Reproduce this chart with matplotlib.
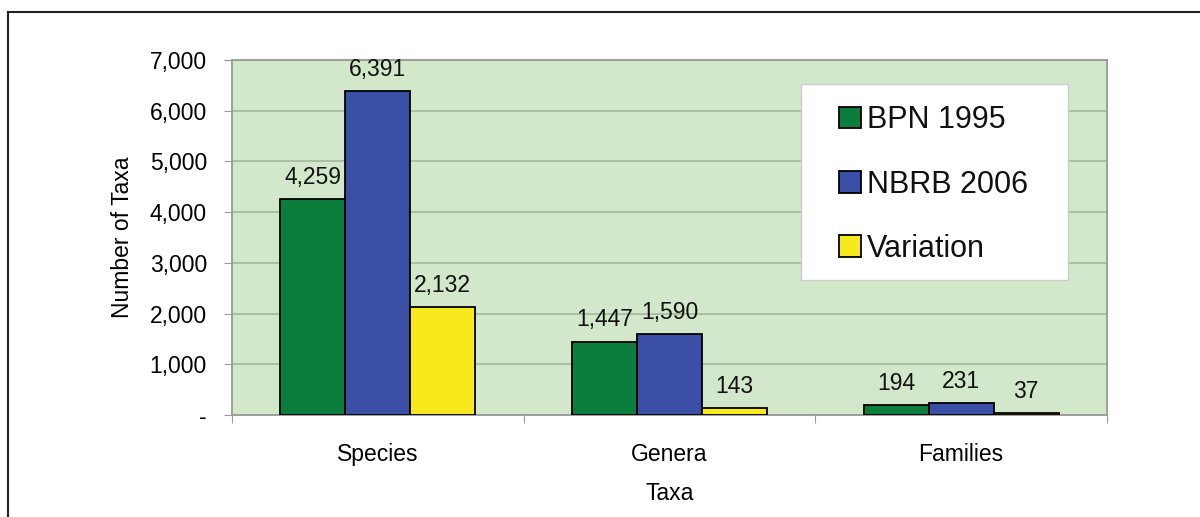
import matplotlib.pyplot as plt
import numpy as np
from matplotlib.lines import Line2D
from matplotlib.patches import Rectangle

plt.rcParams['font.family'] = ['Liberation Sans', 'DejaVu Sans']

# data
categories = ['Species', 'Genera', 'Families']
series_names = ['BPN 1995', 'NBRB 2006', 'Variation']
bpn_1995 = [4259, 1447, 194]
nbrb_2006 = [6391, 1590, 231]
variation = [2132, 143, 37]
yticks = [0, 1000, 2000, 3000, 4000, 5000, 6000, 7000]
ytick_labels = ['-', '1,000', '2,000', '3,000', '4,000', '5,000', '6,000', '7,000']

colors = ['#0b7d3c', '#3a4fa5', '#f7e91b']
fs = 16.5

fig = plt.figure(figsize=(12, 5.17), dpi=100)
ax = fig.add_axes([0.1933, 0.1973, 0.7292, 0.6867])
ax.set_facecolor('#d3e7ca')

# outer frame (left + top only visible)
fig.add_artist(Line2D([8/1200, 8/1200], [0, 1-12/517], transform=fig.transFigure, color='#222222', lw=1.5))
fig.add_artist(Line2D([8/1200, 1], [1-12/517, 1-12/517], transform=fig.transFigure, color='#222222', lw=1.5))

x = np.arange(len(categories))
w = 0.223
for i, (vals, c) in enumerate(zip([bpn_1995, nbrb_2006, variation], colors)):
    bars = ax.bar(x + (i - 1) * w, vals, w, color=c, edgecolor='black', linewidth=1.3,
                  label=series_names[i], zorder=3)
    for b, v in zip(bars, vals):
        ax.text(b.get_x() + b.get_width() / 2, v + 200, f'{v:,}', ha='center', va='bottom',
                fontsize=fs, color='#111111')

ax.set_xlim(-0.5, 2.5)
ax.set_ylim(0, 7000)
ax.set_yticks(yticks)
ax.set_yticklabels(ytick_labels, fontsize=fs)
ax.yaxis.grid(True, color='#a3b79d', lw=1.2, zorder=0)
ax.set_axisbelow(True)

ax.set_xticks([-0.5, 0.5, 1.5, 2.5])
ax.set_xticklabels([])
ax.set_xticks(x, minor=True)
ax.set_xticklabels(categories, minor=True, fontsize=fs)
ax.tick_params(axis='x', which='minor', length=0, pad=20)
ax.tick_params(axis='x', which='major', length=6, color='#999999', direction='out')
ax.tick_params(axis='y', length=6, color='#999999', pad=12)

for s in ax.spines.values():
    s.set_color('#999999')
    s.set_linewidth(1.3)

ax.set_ylabel('Number of Taxa', fontsize=fs, labelpad=11)
ax.set_xlabel('Taxa', fontsize=fs, labelpad=12)

# legend box
ax.add_patch(Rectangle((0.650, 0.380), 0.305, 0.552, transform=ax.transAxes,
                       facecolor='white', edgecolor='#cccccc', lw=1.0, zorder=4))
leg = ax.legend(loc='upper left', bbox_to_anchor=(0.694, 0.872),
                fontsize=22, frameon=False,
                handlelength=0.7, handleheight=0.7, handletextpad=0.2,
                labelspacing=1.12, borderpad=0, borderaxespad=0)
leg.set_zorder(5)
for t in leg.get_texts():
    t.set_color('#111111')

fig.savefig('out.png', dpi=100)
